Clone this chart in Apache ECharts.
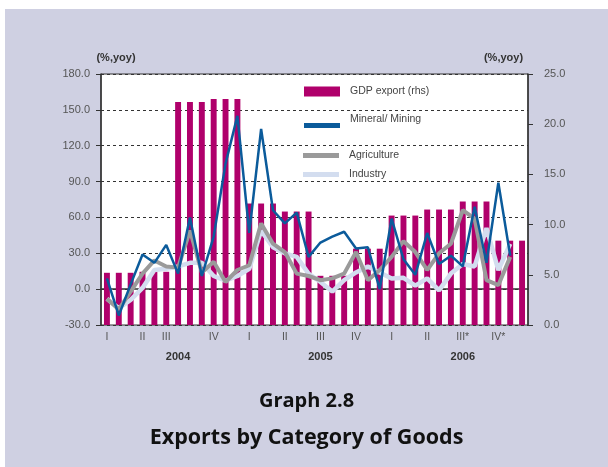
<!DOCTYPE html>
<html>
<head>
<meta charset="UTF-8">
<title>Exports by Category of Goods</title>
<script src="https://cdn.jsdelivr.net/npm/echarts@6/dist/echarts.min.js"></script>
<style>
    html, body { margin: 0; padding: 0; background: #fff; }
    #main { position: absolute; left: 5px; top: 9px; width: 603px; height: 458px; background: #cfd0e2; }
</style>
</head>
<body>
<div id="main"></div>
<script type="text/javascript">
    // monthly categories, Jan 2004 - Dec 2006
    var months = ['2004-01','2004-02','2004-03','2004-04','2004-05','2004-06','2004-07','2004-08','2004-09','2004-10','2004-11','2004-12',
                  '2005-01','2005-02','2005-03','2005-04','2005-05','2005-06','2005-07','2005-08','2005-09','2005-10','2005-11','2005-12',
                  '2006-01','2006-02','2006-03','2006-04','2006-05','2006-06','2006-07','2006-08','2006-09','2006-10','2006-11','2006-12'];
    var quarterTicks = ['I','','','II','','III','','','','IV','','',
                        'I','','','II','','','III','','','IV','','',
                        'I','','','II','','','III*','','','IV*','',''];
    var yearTicks = ['','','','','','','2004','','','','','',
                     '','','','','','','2005','','','','','',
                     '','','','','','','2006','','','','',''];

    // GDP export (rhs), quarterly value repeated per month
    var gdpExport = [5.2,5.2,5.2, 5.3,5.3,5.3, 22.2,22.2,22.2, 22.5,22.5,22.5,
                     12.1,12.1,12.1, 11.3,11.3,11.3, 4.9,4.9,4.9, 7.6,7.6,7.6,
                     10.9,10.9,10.9, 11.5,11.5,11.5, 12.3,12.3,12.3, 8.4,8.4,8.4];
    var mineral = [9,-22,4,29,22,37,13,60,11,44,105,145,
                   47,134,66,55,64,27,39,44,48,34,35,0,
                   59,25,12,47,21,28,19,69,22,89,28,null];
    var agriculture = [-8,-17,-2,13,24,19,18,49,14,23,6,16,
                       20,55,38,31,13,11,7.5,9,13,31,7.5,16,
                       27,40,31,16,30,38,66,59,7.5,3.3,27,null];
    var industry = [-8,-16,-9,1,16,17,19,22,22,11,7,11,
                    17,49,35,30,27,13,6,-2,7.5,14,19,14,
                    9,9.5,3,9,-1,13,21,19,51,16,38,null];

    var leftTicks = [-30, 0, 30, 60, 90, 120, 150, 180];
    var rightTicks = [0, 5, 10, 15, 20, 25];

    var font = 'Liberation Sans';
    var myChart = echarts.init(document.getElementById('main'));

    var legendText = { color: '#444', fontSize: 10.5, fontFamily: font, padding: [0, 0, 0, 5] };
    var noText = function () { return ''; };

    var option = {
        animation: false,
        textStyle: { fontFamily: font },
        title: [
            { text: 'Graph 2.8', left: 'center', top: 377,
              textStyle: { fontSize: 20, fontWeight: 'bold', color: '#111', fontFamily: 'Open Sans' } },
            { text: 'Exports by Category of Goods', left: 'center', top: 413,
              textStyle: { fontSize: 21.5, fontWeight: 'bold', color: '#111', fontFamily: 'Open Sans' } }
        ],
        legend: [
            { data: ['GDP export (rhs)'], left: 299, top: 77, padding: 0, icon: 'rect',
              itemWidth: 36, itemHeight: 10, selectedMode: false, textStyle: legendText },
            // Mineral: text sits above its key, so key and text are placed separately
            { data: ['Mineral/ Mining'], left: 299, top: 105, padding: 0, icon: 'rect',
              itemWidth: 36, itemHeight: 5, selectedMode: false, textStyle: legendText,
              itemStyle: { color: 'rgba(0,0,0,0)' } },
            { data: ['Mineral/ Mining'], left: 299, top: 114, padding: 0, icon: 'rect',
              itemWidth: 36, itemHeight: 5, selectedMode: false, formatter: noText },
            { data: ['Agriculture'], left: 298, top: 141, padding: 0, icon: 'rect',
              itemWidth: 36, itemHeight: 5, selectedMode: false, textStyle: legendText },
            { data: ['Industry'], left: 298, top: 160, padding: 0, icon: 'rect',
              itemWidth: 36, itemHeight: 5, selectedMode: false, textStyle: legendText }
        ],
        grid: {
            left: 96, right: 80, top: 65, bottom: 142,
            show: true, backgroundColor: '#fff', borderColor: '#333', borderWidth: 1
        },
        xAxis: [
            {
                type: 'category', data: months, boundaryGap: true,
                axisLine: { lineStyle: { color: '#333', width: 1.5 } },
                axisTick: { show: false },
                axisLabel: { interval: 0, margin: 7, color: '#555', fontSize: 10.5,
                    formatter: function (v, i) { return quarterTicks[i]; } }
            },
            {
                type: 'category', data: months, boundaryGap: true, position: 'bottom',
                axisLine: { show: false }, axisTick: { show: false },
                axisLabel: { interval: 0, margin: 26, color: '#333', fontSize: 11, fontWeight: 'bold',
                    formatter: function (v, i) { return yearTicks[i]; } }
            }
        ],
        yAxis: [
            {
                type: 'value', min: leftTicks[0], max: leftTicks[leftTicks.length - 1], interval: 30,
                name: '(%,yoy)', nameLocation: 'end', nameGap: 11,
                nameTextStyle: { color: '#333', fontSize: 11, fontWeight: 'bold', align: 'center', padding: [0, 0, 0, 30] },
                axisLine: { show: true, lineStyle: { color: '#333', width: 1.5 } },
                axisTick: { show: true, length: 5, lineStyle: { color: '#333' } },
                axisLabel: { margin: 11, color: '#555', fontSize: 11,
                    formatter: function (v) { return v.toFixed(1); } },
                splitLine: { show: true, lineStyle: { color: '#333', type: [3, 3], width: 1 } }
            },
            {
                type: 'value', min: rightTicks[0], max: rightTicks[rightTicks.length - 1], interval: 5,
                position: 'right',
                name: '(%,yoy)', nameLocation: 'end', nameGap: 11,
                nameTextStyle: { color: '#333', fontSize: 11, fontWeight: 'bold', align: 'center', padding: [0, 49, 0, 0] },
                axisLine: { show: true, lineStyle: { color: '#333', width: 1.5 } },
                axisTick: { show: true, length: 5, lineStyle: { color: '#333' } },
                axisLabel: { margin: 16, color: '#555', fontSize: 11,
                    formatter: function (v) { return v.toFixed(1); } },
                splitLine: { show: false }
            }
        ],
        series: [
            {
                name: 'GDP export (rhs)', type: 'bar', yAxisIndex: 1,
                barWidth: '50%', itemStyle: { color: '#b0006b' },
                data: gdpExport
            },
            {
                name: 'Industry', type: 'line', symbol: 'none',
                lineStyle: { color: '#d3ddef', width: 4.5 }, itemStyle: { color: '#d3ddef' },
                data: industry
            },
            {
                name: 'Agriculture', type: 'line', symbol: 'none',
                lineStyle: { color: '#9a9a9a', width: 4 }, itemStyle: { color: '#9a9a9a' },
                data: agriculture
            },
            {
                name: 'Mineral/ Mining', type: 'line', symbol: 'none',
                lineStyle: { color: '#0b5b9b', width: 2.5 }, itemStyle: { color: '#0b5b9b' },
                data: mineral
            }
        ]
    };
    myChart.setOption(option);
</script>
</body>
</html>
